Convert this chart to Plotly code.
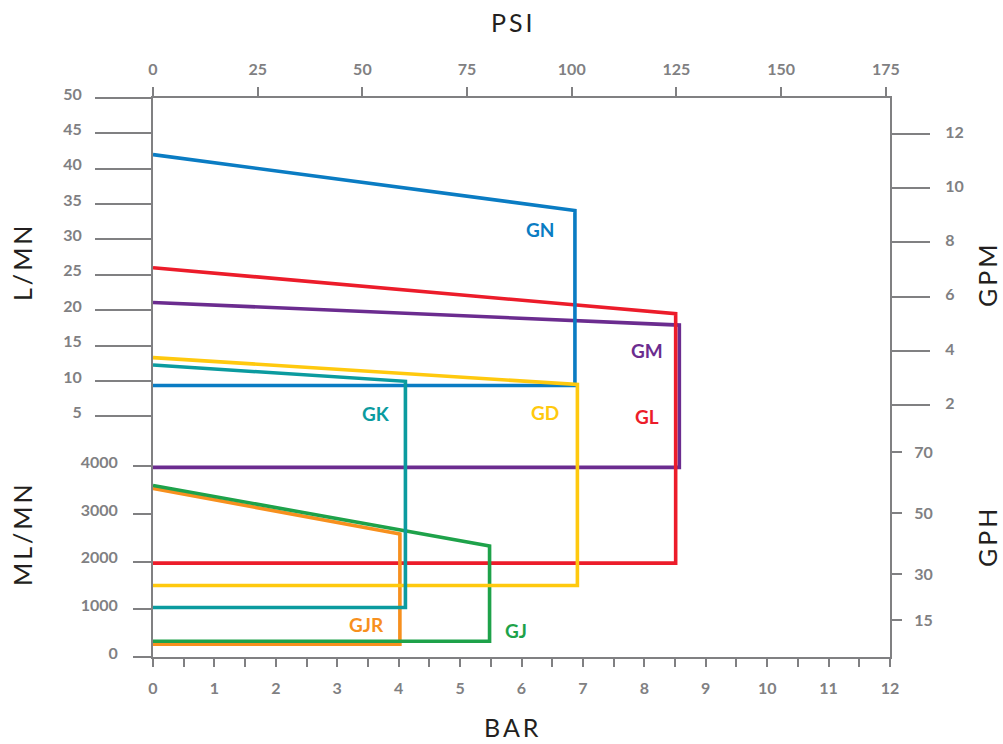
import plotly.graph_objects as go

# ---------------- data ----------------
BAR_TICKS = list(range(0, 13))
PSI_TICKS = [0, 25, 50, 75, 100, 125, 150, 175]
LPM_TICKS = [5, 10, 15, 20, 25, 30, 35, 40, 45, 50]
MLPM_TICKS = [0, 1000, 2000, 3000, 4000]
GPM_TICKS = [2, 4, 6, 8, 10, 12]
GPH_TICKS = [15, 30, 50, 70]

SERIES = ["GM", "GL", "GJR", "GJ", "GN", "GD", "GK"]
BAR_MAX = [8.57, 8.51, 4.02, 5.48, 6.87, 6.91, 4.11]       # bar at vertical edge
FLOW_AT_0 = [21.1, 26.0, 3540, 3600, 42.0, 13.3, 12.25]     # flow at 0 bar
FLOW_AT_MAX = [17.9, 19.5, 2580, 2330, 34.1, 9.5, 9.95]     # flow at max bar
TOP_UNIT = ["L/MN", "L/MN", "ML/MN", "ML/MN", "L/MN", "L/MN", "L/MN"]
FLOW_MIN = [3980, 1970, 270, 330, 9.35, 1500, 1040]         # lower flow line
MIN_UNIT = ["ML/MN", "ML/MN", "ML/MN", "ML/MN", "L/MN", "ML/MN", "ML/MN"]

# ---------------- styles ----------------
COLORS = {"GN": "#0a7cc3", "GL": "#ec1c2a", "GM": "#6b2c8f", "GD": "#ffc90e",
          "GK": "#0b9b9f", "GJR": "#f7901e", "GJ": "#1ea24a"}
LABEL_POS = {  # (bar, value, unit)
    "GN": (6.30, 31.4, "L/MN"), "GM": (8.04, 14.3, "L/MN"), "GL": (8.04, 5.0, "L/MN"),
    "GD": (6.38, 5.55, "L/MN"), "GK": (3.63, 5.4, "L/MN"),
    "GJR": (3.47, 690, "ML/MN"), "GJ": (5.91, 560, "ML/MN"),
}

AXIS_GRAY = "#808082"
TICK_FONT = dict(family="Lato", size=16, color="#808082", weight=700)
TITLE_FONT = dict(family="Lato", size=25, color="#231f20")

# broken left axis: main axis in L/MN, lower band holds ML/MN on its own scale
Y_BOTTOM = -29.02            # axis bottom, equals 0 ML/MN
ML_PER_UNIT = 148.5          # ML/MN per L/MN-axis unit in the lower band
Y_RANGE = [Y_BOTTOM, 50]
GPM_RANGE = [-7.29, 13.33]
GPH_RANGE = [3.0, 185.8]
PSI_RANGE = [0, 176]


def to_axis(v, unit):
    return v if unit == "L/MN" else Y_BOTTOM + v / ML_PER_UNIT


fig = go.Figure()

for name, xm, t0, t1, tu, b, bu in zip(SERIES, BAR_MAX, FLOW_AT_0, FLOW_AT_MAX,
                                       TOP_UNIT, FLOW_MIN, MIN_UNIT):
    fig.add_trace(go.Scatter(
        x=[0, xm, xm, 0],
        y=[to_axis(t0, tu), to_axis(t1, tu), to_axis(b, bu), to_axis(b, bu)],
        mode="lines", line=dict(color=COLORS[name], width=3.6),
        name=name, showlegend=False, hoverinfo="skip", cliponaxis=False,
    ))

# empty traces so the extra axes are bound
for xa, ya in [("x2", "y"), ("x", "y2"), ("x", "y3"), ("x", "y4")]:
    fig.add_trace(go.Scatter(x=[], y=[], xaxis=xa, yaxis=ya, showlegend=False))

for name, (bx, v, u) in LABEL_POS.items():
    fig.add_annotation(x=bx, y=to_axis(v, u), xref="x", yref="y", text=name,
                       showarrow=False,
                       font=dict(family="Lato", size=19, color=COLORS[name], weight=700))

common = dict(showgrid=False, zeroline=False, showline=True, linecolor=AXIS_GRAY,
              linewidth=2, ticks="outside", tickcolor=AXIS_GRAY, tickwidth=2,
              tickfont=TICK_FONT, fixedrange=True)

fig.update_layout(
    width=1003, height=744,
    margin=dict(l=153, r=113, t=98, b=87),
    paper_bgcolor="white", plot_bgcolor="white",
    xaxis=dict(common, range=[0, 12], tickmode="array",
               tickvals=[i * 0.5 for i in range(25)],
               ticktext=[str(int(i * 0.5)) if i % 2 == 0 else "" for i in range(25)],
               ticklen=8, ticklabelstandoff=8),
    xaxis2=dict(common, range=PSI_RANGE, overlaying="x", side="top", anchor="y",
                tickmode="array", tickvals=PSI_TICKS, ticklen=9, ticklabelstandoff=6),
    yaxis=dict(common, range=Y_RANGE, tickmode="array", tickvals=LPM_TICKS,
               ticklen=56, ticklabelstandoff=10, ticklabelshift=-4),
    yaxis2=dict(common, range=Y_RANGE, overlaying="y", side="left", anchor="x",
                tickmode="array",
                tickvals=[to_axis(v, "ML/MN") for v in MLPM_TICKS],
                ticktext=[str(v) for v in MLPM_TICKS],
                ticklen=18, ticklabelstandoff=12, ticklabelshift=-4),
    yaxis3=dict(common, range=GPM_RANGE, overlaying="y", side="right", anchor="x",
                tickmode="array", tickvals=GPM_TICKS, ticklen=38,
                ticklabelstandoff=12, ticklabelshift=-2),
    yaxis4=dict(common, range=GPH_RANGE, overlaying="y", side="right", anchor="x",
                tickmode="array", tickvals=GPH_TICKS, ticklen=10,
                ticklabelstandoff=9),
)

side_titles = [("PSI", 513, 22, 0), ("BAR", 513, 727, 0),
               ("L/MN", 22, 262, -90), ("ML/MN", 22, 534, -90),
               ("GPM", 987, 274, -90), ("GPH", 987, 537, -90)]
for text, px, py, rot in side_titles:
    fig.add_annotation(x=(px - 153) / 737, y=(744 - 87 - py) / 559,
                       xref="paper", yref="paper",
                       text='<span style="letter-spacing:3px">%s</span>' % text,
                       showarrow=False, textangle=rot, font=TITLE_FONT,
                       xanchor="center", yanchor="middle")

fig.write_html("out.html", config={"displayModeBar": False},
               post_script="document.body.style.margin='0px';")
